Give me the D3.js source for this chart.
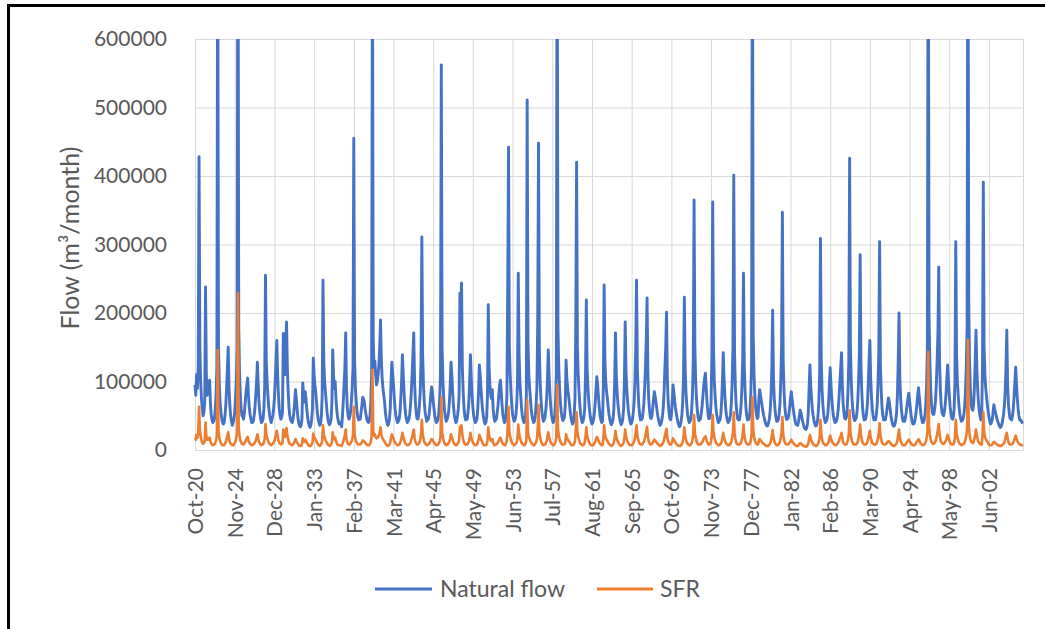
<!DOCTYPE html>
<html>
<head>
<meta charset="utf-8">
<script src="https://cdn.jsdelivr.net/npm/d3@7/dist/d3.min.js"></script>
<style>
  body { margin: 0; background: #fff; }
  svg text { font-family: Lato, "Open Sans", sans-serif; fill: #595959; }
</style>
</head>
<body>
<div id="chart"></div>
<script>
// monthly series start in Oct 1920, one row per water year (Oct..Sep), thousand m3/month
const tickLabels = ["Oct-20", "Nov-24", "Dec-28", "Jan-33", "Feb-37", "Mar-41", "Apr-45",
  "May-49", "Jun-53", "Jul-57", "Aug-61", "Sep-65", "Oct-69", "Nov-73", "Dec-77",
  "Jan-82", "Feb-86", "Mar-90", "Apr-94", "May-98", "Jun-02"];
const tickEvery = 49; // months between labels
const yTicks = [0, 100000, 200000, 300000, 400000, 500000, 600000];
const seriesNames = ["Natural flow", "SFR"];

const naturalFlow = [
  [95, 80, 110, 90, 120, 428, 150, 100, 75, 60, 50, 55],
  [70, 238, 110, 80, 95, 85, 102, 70, 52, 44, 40, 42],
  [45, 60, 80, 120, 800, 150, 95, 70, 55, 46, 40, 38],
  [40, 50, 65, 90, 120, 150, 90, 65, 50, 42, 36, 40],
  [45, 55, 75, 100, 150, 900, 180, 110, 80, 60, 50, 48],
  [45, 55, 70, 85, 95, 105, 80, 62, 52, 45, 40, 40],
  [42, 50, 62, 80, 100, 128, 95, 70, 55, 46, 40, 42],
  [45, 60, 90, 255, 130, 100, 80, 62, 52, 45, 40, 45],
  [50, 60, 75, 100, 130, 160, 110, 80, 60, 50, 45, 48],
  [55, 170, 120, 110, 150, 187, 120, 85, 62, 50, 44, 42],
  [40, 45, 55, 70, 88, 75, 60, 48, 40, 36, 34, 36],
  [45, 98, 80, 70, 85, 75, 60, 48, 40, 36, 33, 36],
  [45, 60, 134, 110, 95, 85, 70, 55, 45, 40, 36, 38],
  [50, 80, 248, 130, 100, 85, 70, 55, 46, 40, 37, 40],
  [45, 70, 146, 110, 90, 100, 75, 58, 48, 42, 38, 40],
  [40, 34, 50, 70, 95, 120, 171, 90, 62, 50, 45, 48],
  [55, 70, 90, 120, 455, 130, 90, 70, 55, 48, 44, 45],
  [45, 55, 65, 77, 75, 70, 60, 52, 46, 42, 40, 42],
  [50, 70, 110, 750, 160, 120, 130, 110, 95, 100, 110, 125],
  [150, 190, 131, 105, 90, 80, 70, 55, 46, 40, 36, 38],
  [45, 60, 100, 128, 110, 95, 75, 60, 50, 44, 40, 42],
  [45, 55, 75, 100, 139, 110, 85, 65, 52, 45, 40, 42],
  [45, 52, 65, 85, 110, 140, 171, 100, 70, 55, 46, 45],
  [50, 65, 85, 130, 311, 140, 95, 70, 56, 48, 42, 44],
  [45, 52, 65, 80, 92, 85, 72, 60, 50, 44, 40, 42],
  [45, 55, 75, 110, 562, 150, 100, 75, 58, 48, 42, 44],
  [48, 55, 70, 95, 128, 110, 85, 65, 52, 45, 40, 42],
  [50, 60, 80, 229, 200, 244, 120, 85, 62, 50, 44, 45],
  [45, 55, 70, 100, 139, 105, 80, 62, 50, 44, 40, 42],
  [45, 60, 85, 124, 110, 90, 72, 58, 48, 42, 38, 40],
  [48, 80, 212, 120, 95, 80, 75, 88, 60, 48, 42, 44],
  [45, 55, 65, 80, 95, 102, 85, 65, 52, 45, 40, 42],
  [55, 80, 241, 442, 150, 110, 85, 65, 52, 46, 42, 44],
  [50, 65, 95, 258, 140, 100, 80, 62, 50, 44, 40, 42],
  [50, 80, 511, 160, 110, 90, 75, 60, 50, 44, 40, 42],
  [50, 65, 90, 182, 448, 150, 100, 75, 58, 48, 42, 44],
  [48, 58, 75, 100, 146, 110, 85, 65, 52, 45, 40, 42],
  [50, 70, 110, 850, 180, 120, 90, 70, 56, 48, 43, 45],
  [48, 65, 131, 105, 90, 80, 70, 58, 48, 42, 38, 40],
  [50, 75, 180, 420, 150, 110, 85, 65, 52, 45, 40, 42],
  [48, 60, 110, 219, 120, 90, 72, 58, 48, 42, 38, 40],
  [45, 55, 70, 90, 107, 95, 78, 62, 50, 44, 40, 42],
  [90, 241, 130, 100, 85, 75, 62, 52, 45, 40, 37, 40],
  [45, 60, 100, 171, 110, 85, 68, 56, 47, 41, 37, 40],
  [45, 60, 100, 187, 115, 88, 70, 57, 48, 42, 38, 40],
  [45, 55, 70, 100, 150, 248, 120, 85, 62, 50, 44, 44],
  [46, 55, 68, 90, 120, 160, 222, 110, 75, 58, 48, 46],
  [50, 62, 75, 85, 78, 70, 60, 52, 45, 40, 36, 38],
  [42, 50, 62, 85, 120, 150, 201, 105, 72, 56, 46, 44],
  [50, 70, 95, 85, 72, 62, 54, 47, 41, 37, 34, 36],
  [42, 52, 70, 110, 223, 120, 85, 65, 52, 45, 40, 42],
  [45, 58, 80, 130, 365, 150, 100, 75, 58, 48, 43, 44],
  [46, 55, 65, 80, 95, 105, 112, 90, 70, 55, 46, 46],
  [50, 70, 140, 362, 150, 100, 78, 62, 51, 45, 40, 42],
  [44, 52, 70, 100, 142, 105, 80, 62, 50, 44, 40, 42],
  [44, 52, 68, 100, 150, 401, 140, 90, 65, 52, 45, 44],
  [44, 52, 65, 90, 130, 258, 120, 85, 62, 50, 44, 44],
  [46, 56, 80, 130, 800, 170, 110, 80, 62, 52, 46, 48],
  [75, 88, 80, 72, 64, 56, 50, 45, 40, 37, 35, 36],
  [40, 46, 58, 80, 120, 204, 105, 75, 58, 48, 42, 42],
  [44, 52, 68, 100, 150, 347, 130, 88, 64, 52, 45, 45],
  [46, 52, 62, 75, 85, 75, 64, 55, 47, 41, 37, 37],
  [36, 42, 50, 58, 54, 48, 42, 37, 33, 31, 30, 32],
  [38, 55, 90, 124, 95, 75, 60, 50, 43, 38, 35, 36],
  [40, 50, 70, 110, 309, 130, 88, 65, 52, 45, 40, 42],
  [44, 52, 68, 95, 120, 95, 75, 60, 50, 44, 40, 41],
  [43, 50, 60, 78, 100, 120, 142, 95, 68, 54, 46, 45],
  [48, 60, 85, 131, 426, 150, 100, 75, 58, 48, 43, 44],
  [46, 54, 70, 100, 140, 285, 125, 85, 62, 50, 44, 44],
  [46, 54, 68, 95, 130, 160, 105, 78, 60, 50, 44, 44],
  [44, 52, 66, 95, 140, 304, 125, 85, 62, 50, 44, 44],
  [44, 50, 58, 68, 76, 70, 60, 50, 43, 38, 35, 35],
  [38, 44, 55, 80, 131, 200, 105, 75, 58, 48, 42, 42],
  [42, 48, 56, 66, 76, 83, 72, 60, 50, 43, 38, 38],
  [40, 46, 55, 66, 80, 91, 78, 64, 52, 45, 40, 40],
  [44, 52, 66, 95, 150, 900, 200, 130, 90, 68, 55, 52],
  [52, 60, 72, 95, 130, 170, 267, 130, 88, 66, 55, 52],
  [50, 56, 66, 82, 105, 124, 100, 80, 64, 54, 47, 45],
  [48, 60, 100, 304, 140, 100, 80, 64, 53, 46, 42, 43],
  [45, 52, 64, 85, 120, 180, 950, 220, 130, 90, 68, 60],
  [58, 66, 90, 130, 175, 120, 90, 70, 57, 49, 44, 48],
  [120, 391, 150, 110, 90, 78, 66, 56, 48, 42, 38, 40],
  [44, 55, 66, 60, 55, 50, 45, 41, 38, 35, 33, 34],
  [38, 44, 52, 65, 85, 120, 175, 95, 68, 54, 46, 45],
  [44, 50, 60, 78, 100, 121, 95, 75, 60, 50, 44, 44],
  [42, 40, 39]
];

const sfrFlow = [
  [18, 15, 22, 18, 25, 63, 30, 20, 14, 11, 9, 10],
  [13, 40, 20, 15, 17, 15, 18, 13, 10, 8, 7, 8],
  [8, 11, 14, 22, 146, 28, 17, 13, 10, 8, 7, 7],
  [7, 9, 12, 16, 21, 26, 16, 12, 9, 8, 7, 7],
  [8, 10, 13, 18, 27, 229, 32, 20, 14, 11, 9, 9],
  [8, 10, 12, 15, 17, 19, 14, 11, 9, 8, 7, 7],
  [8, 9, 11, 14, 18, 23, 17, 12, 10, 8, 7, 8],
  [8, 11, 16, 38, 23, 18, 14, 11, 9, 8, 7, 8],
  [9, 11, 13, 18, 23, 28, 20, 14, 11, 9, 8, 9],
  [10, 30, 21, 19, 26, 32, 21, 15, 11, 9, 8, 8],
  [7, 8, 10, 12, 16, 13, 11, 9, 7, 6, 6, 6],
  [8, 17, 14, 12, 15, 13, 11, 9, 7, 6, 6, 6],
  [8, 11, 24, 19, 17, 15, 12, 10, 8, 7, 6, 7],
  [9, 14, 36, 23, 18, 15, 12, 10, 8, 7, 6, 7],
  [8, 12, 26, 19, 16, 18, 13, 10, 8, 7, 7, 7],
  [7, 6, 9, 12, 17, 21, 30, 16, 11, 9, 8, 8],
  [10, 12, 16, 21, 63, 23, 16, 12, 10, 8, 8, 8],
  [8, 10, 11, 14, 13, 12, 11, 9, 8, 7, 7, 7],
  [9, 12, 19, 117, 28, 21, 23, 19, 17, 18, 19, 22],
  [26, 33, 23, 18, 16, 14, 12, 10, 8, 7, 6, 7],
  [8, 11, 18, 23, 19, 17, 13, 11, 9, 8, 7, 7],
  [8, 10, 13, 18, 25, 19, 15, 11, 9, 8, 7, 7],
  [8, 9, 11, 15, 19, 25, 30, 18, 12, 10, 8, 8],
  [9, 11, 15, 23, 44, 25, 17, 12, 10, 8, 7, 8],
  [8, 9, 11, 14, 16, 15, 13, 11, 9, 8, 7, 7],
  [8, 10, 13, 19, 77, 26, 18, 13, 10, 8, 7, 8],
  [8, 10, 12, 17, 23, 19, 15, 11, 9, 8, 7, 7],
  [9, 11, 14, 34, 30, 36, 21, 15, 11, 9, 8, 8],
  [8, 10, 12, 18, 25, 18, 14, 11, 9, 8, 7, 7],
  [8, 11, 15, 22, 19, 16, 13, 10, 8, 7, 7, 7],
  [8, 14, 33, 21, 17, 14, 13, 16, 11, 8, 7, 8],
  [8, 10, 11, 14, 17, 18, 15, 11, 9, 8, 7, 7],
  [10, 14, 35, 63, 26, 19, 15, 11, 9, 8, 7, 8],
  [9, 11, 17, 37, 25, 18, 14, 11, 9, 8, 7, 7],
  [9, 14, 73, 28, 19, 16, 13, 11, 9, 8, 7, 7],
  [9, 11, 16, 30, 66, 26, 18, 13, 10, 8, 7, 8],
  [8, 10, 13, 18, 26, 19, 15, 11, 9, 8, 7, 7],
  [9, 12, 19, 95, 31, 21, 16, 12, 10, 8, 8, 8],
  [8, 11, 23, 18, 16, 14, 12, 10, 8, 7, 7, 7],
  [9, 13, 30, 55, 26, 19, 15, 11, 9, 8, 7, 7],
  [8, 11, 19, 33, 21, 16, 13, 10, 8, 7, 7, 7],
  [8, 10, 12, 16, 19, 17, 14, 11, 9, 8, 7, 7],
  [16, 36, 23, 18, 15, 13, 11, 9, 8, 7, 6, 7],
  [8, 11, 18, 28, 19, 15, 12, 10, 8, 7, 6, 7],
  [8, 11, 18, 30, 20, 15, 12, 10, 8, 7, 7, 7],
  [8, 10, 12, 18, 26, 36, 21, 15, 11, 9, 8, 8],
  [8, 10, 12, 16, 21, 28, 34, 19, 13, 10, 8, 8],
  [9, 11, 13, 15, 14, 12, 11, 9, 8, 7, 6, 7],
  [7, 9, 11, 15, 21, 26, 31, 18, 13, 10, 8, 8],
  [9, 12, 17, 15, 13, 11, 9, 8, 7, 6, 6, 6],
  [7, 9, 12, 19, 33, 21, 15, 11, 9, 8, 7, 7],
  [8, 10, 14, 23, 51, 26, 18, 13, 10, 8, 8, 8],
  [8, 10, 11, 14, 17, 18, 20, 16, 12, 10, 8, 8],
  [9, 12, 24, 51, 26, 18, 14, 11, 9, 8, 7, 7],
  [8, 9, 12, 18, 25, 18, 14, 11, 9, 8, 7, 7],
  [8, 9, 12, 18, 26, 55, 25, 16, 11, 9, 8, 8],
  [8, 9, 11, 16, 23, 37, 21, 15, 11, 9, 8, 8],
  [8, 10, 14, 23, 77, 30, 19, 14, 11, 9, 8, 8],
  [13, 16, 14, 13, 11, 10, 9, 8, 7, 6, 6, 6],
  [7, 8, 10, 14, 21, 29, 18, 13, 10, 8, 7, 7],
  [8, 9, 12, 18, 26, 48, 23, 15, 11, 9, 8, 8],
  [8, 9, 11, 13, 15, 13, 11, 10, 8, 7, 6, 6],
  [6, 7, 9, 10, 9, 8, 7, 6, 6, 5, 5, 5],
  [7, 10, 16, 22, 17, 13, 11, 9, 7, 7, 6, 6],
  [7, 9, 12, 19, 44, 23, 15, 11, 9, 8, 7, 7],
  [8, 9, 12, 17, 21, 17, 13, 11, 9, 8, 7, 7],
  [8, 9, 11, 14, 18, 21, 25, 17, 12, 9, 8, 8],
  [8, 11, 15, 23, 58, 26, 18, 13, 10, 8, 8, 8],
  [8, 9, 12, 18, 25, 37, 22, 15, 11, 9, 8, 8],
  [8, 9, 12, 17, 23, 28, 18, 14, 10, 9, 8, 8],
  [8, 9, 12, 17, 25, 39, 22, 15, 11, 9, 8, 8],
  [8, 9, 10, 12, 13, 12, 11, 9, 7, 7, 6, 6],
  [7, 8, 10, 14, 23, 30, 18, 13, 10, 8, 7, 7],
  [7, 8, 10, 12, 13, 15, 13, 11, 9, 8, 7, 7],
  [7, 8, 10, 12, 14, 16, 14, 11, 9, 8, 7, 7],
  [8, 9, 12, 17, 26, 143, 35, 23, 16, 12, 10, 9],
  [9, 11, 13, 17, 23, 30, 38, 23, 15, 12, 10, 9],
  [9, 10, 12, 14, 18, 22, 18, 14, 11, 9, 8, 8],
  [8, 11, 18, 44, 25, 18, 14, 11, 9, 8, 7, 8],
  [8, 9, 11, 15, 21, 31, 161, 36, 23, 16, 12, 11],
  [10, 12, 16, 23, 30, 21, 16, 12, 10, 9, 8, 8],
  [21, 55, 26, 19, 16, 14, 12, 10, 8, 7, 7, 7],
  [8, 10, 12, 11, 10, 9, 8, 7, 7, 6, 6, 6],
  [7, 8, 9, 11, 15, 21, 25, 17, 12, 9, 8, 8],
  [8, 9, 11, 14, 18, 21, 17, 13, 11, 9, 8, 8],
  [7, 7, 7]
];

const colors = ["#4472C4", "#ED7D31"];

const width = 1045;
const height = 629;
const plot = { left: 195, right: 1023, top: 39, bottom: 450 };

const series = [naturalFlow, sfrFlow].map(rows => rows.flat().map(v => v * 1000));
const n = series[0].length;

const svg = d3.select("#chart").append("svg")
  .attr("width", width)
  .attr("height", height);

// frame, only top and left edges show in the crop
svg.append("path")
  .attr("d", `M8.5,${height} V5.5 H${width}`)
  .attr("fill", "none")
  .attr("stroke", "#000")
  .attr("stroke-width", 3);

const x = d3.scaleLinear().domain([0, n - 1]).range([plot.left, plot.right]);
const y = d3.scaleLinear().domain([0, 600000]).range([plot.bottom, plot.top]);

const yAxis = svg.append("g")
  .attr("transform", `translate(${plot.left},0)`)
  .call(d3.axisLeft(y)
    .tickValues(yTicks)
    .tickSize(-(plot.right - plot.left))
    .tickPadding(28)
    .tickFormat(d3.format("d")));
yAxis.select(".domain").remove();
yAxis.selectAll(".tick line").attr("stroke", "#d9d9d9");
yAxis.selectAll(".tick text").style("font-size", "21px");

const tickIdx = tickLabels.map((d, i) => i * tickEvery);
const xAxis = svg.append("g")
  .attr("transform", `translate(0,${plot.bottom})`)
  .call(d3.axisBottom(x)
    .tickValues(tickIdx)
    .tickSize(-(plot.bottom - plot.top))
    .tickFormat((d, i) => tickLabels[i]));
xAxis.select(".domain").attr("stroke", "#d9d9d9");
xAxis.selectAll(".tick line").attr("stroke", "#d9d9d9");
xAxis.selectAll(".tick text")
  .style("font-size", "21px")
  .attr("transform", "rotate(-90)")
  .attr("x", -18)
  .attr("y", 0)
  .attr("dy", "0.36em")
  .style("text-anchor", "end");

svg.append("clipPath").attr("id", "plot-clip")
  .append("rect")
  .attr("x", plot.left - 2)
  .attr("y", plot.top)
  .attr("width", plot.right - plot.left + 4)
  .attr("height", plot.bottom - plot.top + 2);

const line = d3.line()
  .x((d, i) => x(i))
  .y(d => y(d));

svg.append("g").attr("clip-path", "url(#plot-clip)")
  .selectAll("path")
  .data(series)
  .enter().append("path")
  .attr("d", line)
  .attr("fill", "none")
  .attr("stroke", (d, i) => colors[i])
  .attr("stroke-width", (d, i) => i === 0 ? 2.9 : 2.6)
  .attr("stroke-linejoin", "round");

svg.append("text")
  .attr("transform", "translate(70,238) rotate(-90)")
  .attr("text-anchor", "middle")
  .attr("dy", "0.35em")
  .style("font-size", "25px")
  .text("Flow (m³/month)");

const legendItems = [
  { x1: 375, x2: 432, tx: 440 },
  { x1: 597, x2: 653, tx: 660 }
];
const legend = svg.append("g").attr("transform", "translate(0,589)");
legend.selectAll("line")
  .data(legendItems)
  .enter().append("line")
  .attr("x1", d => d.x1)
  .attr("x2", d => d.x2)
  .attr("stroke", (d, i) => colors[i])
  .attr("stroke-width", 3);
legend.selectAll("text")
  .data(legendItems)
  .enter().append("text")
  .attr("x", d => d.tx)
  .attr("dy", "0.35em")
  .style("font-size", "23px")
  .text((d, i) => seriesNames[i]);
</script>
</body>
</html>
